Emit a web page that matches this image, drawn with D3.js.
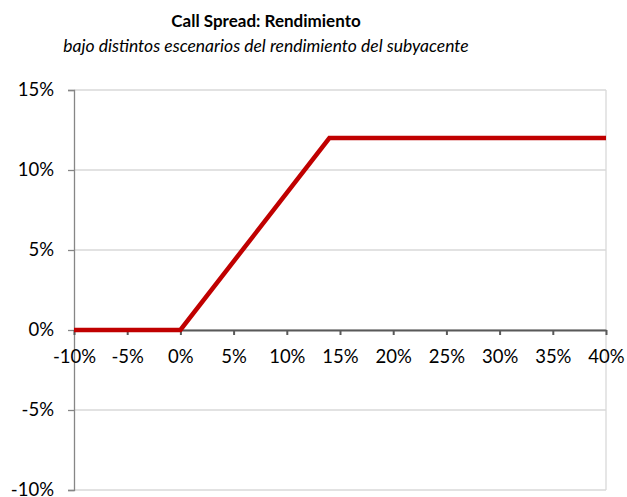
<!DOCTYPE html>
<html><head><meta charset="utf-8">
<script src="https://cdn.jsdelivr.net/npm/d3@7"></script>
<style>body{margin:0;background:#fff;} svg{display:block;}</style>
</head><body>
<svg id="c" width="627" height="497"></svg>
<script>
const title = "Call Spread: Rendimiento";
const subtitle = "bajo distintos escenarios del rendimiento del subyacente";
const xValues = [-10, 0, 14, 40];
const yValues = [0, 0, 12, 12];
const xTicks = [-10, -5, 0, 5, 10, 15, 20, 25, 30, 35, 40];
const yTicks = [-10, -5, 0, 5, 10, 15];

const svg = d3.select("#c");
const font = "Lato, 'Open Sans', sans-serif";
const L = 74, R = 606, T = 90, B = 490;
const x = d3.scaleLinear().domain([-10, 40]).range([L, R]);
const y = d3.scaleLinear().domain([-10, 15]).range([B, T]);

// grid
svg.append("g").selectAll("line").data(yTicks).join("line")
  .attr("x1", L).attr("x2", R).attr("y1", d => y(d)).attr("y2", d => y(d))
  .attr("stroke", "#d9d9d9").attr("stroke-width", 1.3);
svg.append("line").attr("x1", R).attr("x2", R).attr("y1", T).attr("y2", B)
  .attr("stroke", "#d9d9d9").attr("stroke-width", 1.3);

// y axis
const ya = svg.append("g").attr("transform", `translate(${L},0)`)
  .call(d3.axisLeft(y).tickValues(yTicks).tickFormat(d => d + "%").tickSize(6).tickPadding(14));
ya.select(".domain").attr("stroke", "#868686").attr("stroke-width", 1.3);
ya.selectAll(".tick line").attr("stroke", "#868686").attr("stroke-width", 1.3);
ya.selectAll("text").attr("font-family", font).attr("font-size", 18.5).attr("fill", "#000");

// x axis at y=0
const xa = svg.append("g").attr("transform", `translate(0,${y(0)})`)
  .call(d3.axisBottom(x).tickValues(xTicks).tickFormat(d => d + "%").tickSize(5).tickPadding(15).tickSizeOuter(0));
xa.select(".domain").attr("stroke", "#595959").attr("stroke-width", 2);
xa.selectAll(".tick line").attr("stroke", "#595959").attr("stroke-width", 2);
xa.selectAll("text").attr("font-family", font).attr("font-size", 18.5).attr("fill", "#000");

// line
const pts = xValues.map((v, i) => [v, yValues[i]]);
svg.append("path").datum(pts)
  .attr("d", d3.line().x(d => x(d[0])).y(d => y(d[1])))
  .attr("fill", "none").attr("stroke", "#c00000").attr("stroke-width", 4.5)
  .attr("stroke-linejoin", "miter");

// titles
svg.append("text").attr("x", 266).attr("y", 27).attr("text-anchor", "middle")
  .attr("font-family", font).attr("font-weight", "bold").attr("font-size", 17).text(title);
svg.append("text").attr("x", 266).attr("y", 52).attr("text-anchor", "middle")
  .attr("font-family", font).attr("font-style", "italic").attr("font-size", 17.5).text(subtitle);
</script>
</body></html>
